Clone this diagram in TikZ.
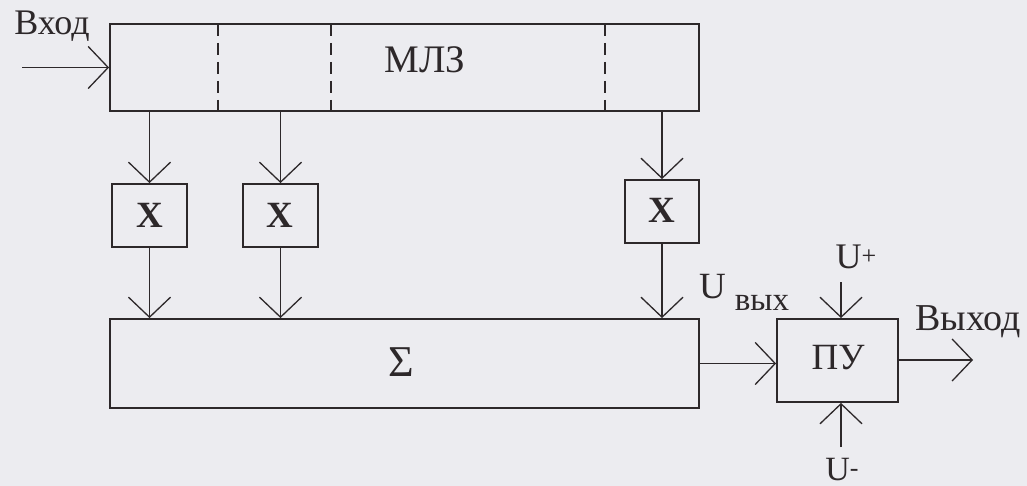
\documentclass[tikz,border=0pt]{standalone}
\usepackage{fontspec}
\setmainfont{Liberation Serif}
\usetikzlibrary{arrows.meta,calc}
\definecolor{bg}{RGB}{236,236,240}
\definecolor{ink}{RGB}{45,40,42}
\tikzset{
  box/.style={draw=ink,line width=1.8pt,inner sep=0pt},
  conn/.style={draw=ink,line width=1.3pt,-{Straight Barb[length=20pt,width=42pt,line width=1.3pt]}},
  sep/.style={draw=ink,line width=1.5pt,dash pattern=on 12pt off 7pt},
  lbl/.style={text=ink,inner sep=0pt,anchor=base},
}
\newcommand{\fs}[1]{\fontsize{#1}{#1}\selectfont}
\begin{document}
\begin{tikzpicture}[x=1pt,y=-1pt]
\fill[bg] (0,0) rectangle (1027,486);
\useasboundingbox (0,0) rectangle (1027,486);
% MLZ
\node[box,minimum width=589pt,minimum height=87pt] (mlz) at (404.5,67.5) {};
\node[lbl,font=\fs{39}] (mlzt) at (425,73) {МЛЗ};
\draw[sep] (218,24) -- (218,111);
\draw[sep] (331,24) -- (331,111);
\draw[sep] (605,24) -- (605,111);
% input
\coordinate (in) at (22,67.5);
\node[lbl,font=\fs{36}] (vhod) at (52,35) {Вход};
\draw[conn] (in) -- (mlz.west);
% multipliers
\node[box,minimum width=75pt,minimum height=63pt] (x1) at (149.5,215.5) {};
\node[box,minimum width=75pt,minimum height=63pt] (x2) at (280.5,215.5) {};
\node[box,minimum width=74pt,minimum height=63pt] (x3) at (662,211.5) {};
\node[lbl,font=\fs{37}\bfseries] (x1t) at (150,228) {X};
\node[lbl,font=\fs{37}\bfseries] (x2t) at (280,228) {X};
\node[lbl,font=\fs{37}\bfseries] (x3t) at (662,223) {X};
% sum
\node[box,minimum width=589pt,minimum height=89pt] (sum) at (404.5,363.5) {};
\node[lbl,font=\fs{44}] (sumt) at (401,376) {Σ};
% MLZ -> X
\draw[conn] (x1.north |- mlz.south) -- (x1.north);
\draw[conn] (x2.north |- mlz.south) -- (x2.north);
\draw[conn] (x3.north |- mlz.south) -- (x3.north);
% X -> sum
\draw[conn] (x1.south) -- (x1.south |- sum.north);
\draw[conn] (x2.south) -- (x2.south |- sum.north);
\draw[conn] (x3.south) -- (x3.south |- sum.north);
% PU
\node[box,minimum width=121pt,minimum height=83pt] (pu) at (837.5,360.5) {};
\node[lbl,font=\fs{37}] (put) at (838,369) {ПУ};
\draw[conn] (sum.east) -- (sum.east -| pu.west);
\node[lbl,font=\fs{37}] (uvyh) at (712.5,298) {U};
\node[lbl,font=\fs{33}] (uvyhs) at (762,310) {вых};
% U+ / U-
\coordinate (up) at (841,282);
\coordinate (um) at (841,447);
\draw[conn] (up) -- (up |- pu.north);
\draw[conn] (um) -- (um |- pu.south);
\node[lbl,font=\fs{36}] (uplus) at (856,268) {U\raisebox{3pt}{\fs{26}+}};
\node[lbl,font=\fs{34}] (uminus) at (842,480) {U\raisebox{4pt}{\fs{26}-}};
% output
\coordinate (out) at (973,360);
\draw[conn] (pu.east |- out) -- (out);
\node[lbl,font=\fs{38}] (vyhod) at (968,330) {Выход};
\end{tikzpicture}
\end{document}
